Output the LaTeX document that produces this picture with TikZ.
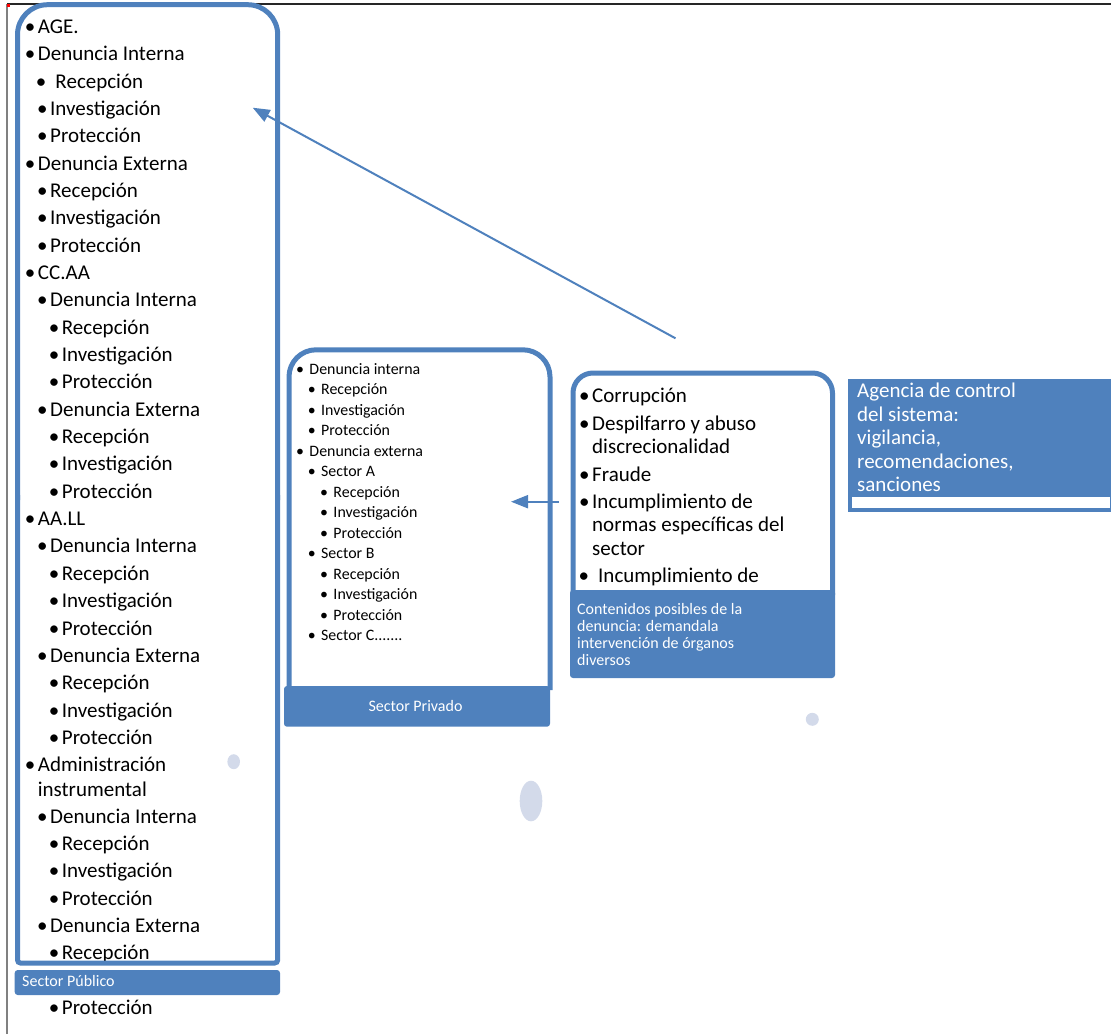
\documentclass[tikz,border=0pt]{standalone}
\usepackage{fontspec}
\setmainfont{Carlito}
\usetikzlibrary{arrows.meta}
\definecolor{accblue}{HTML}{4F81BD}
\definecolor{blob}{HTML}{D3DAEA}
\newcommand{\bu}[1][2.5pt]{\llap{\textbullet\hspace{#1}}}

\tikzset{
  lg/.style={anchor=base west,inner sep=0pt,font=\fontsize{21}{24}\selectfont},
  sm/.style={anchor=base west,inner sep=0pt,font=\fontsize{15.9}{18}\selectfont},
  wt/.style={anchor=base west,inner sep=0pt,text=white,font=\fontsize{16}{18}\selectfont},
  wl/.style={anchor=base west,inner sep=0pt,text=white,font=\fontsize{21}{24}\selectfont},
  frame/.style={draw=accblue,line width=5pt},
  bar/.style={fill=accblue,rounded corners=3pt},
  arr/.style={draw=accblue,line width=2pt,-{Triangle[length=17pt,width=13pt]}}
}

\begin{document}
\begin{tikzpicture}[x=1pt,y=-1pt]
\useasboundingbox (0,0) rectangle (1111,1034);
% page edge
\draw[black!50,line width=1.2pt] (7,1034)--(7,4);
\draw[black!85,line width=1.3pt] (7,4)--(1111,4);
\fill[red] (6.5,3.5) rectangle (9.5,6.5);
% faint blobs
\fill[blob] (233.7,761.7) ellipse [x radius=6.3pt,y radius=7.5pt];
\fill[blob] (531,801) ellipse [x radius=11.3pt,y radius=20.3pt];
\fill[blob] (812.3,719.3) circle (6.5pt);

% sector publico list
\node[lg] (p1) at (37.7,33.3) {\bu AGE.};
\node[lg] (p2) at (37.7,60.65) {\bu Denuncia Interna};
\node[lg] (p3) at (55.3,88) {\bu[9.2pt]Recepción};
\node[lg] (p4) at (50,115.35) {\bu Investigación};
\node[lg] (p5) at (50,142.7) {\bu Protección};
\node[lg] (p6) at (37.7,170.05) {\bu Denuncia Externa};
\node[lg] (p7) at (50,197.4) {\bu Recepción};
\node[lg] (p8) at (50,224.75) {\bu Investigación};
\node[lg] (p9) at (50,252.1) {\bu Protección};
\node[lg] (p10) at (37.7,279.45) {\bu CC.AA};
\node[lg] (p11) at (50,306.8) {\bu Denuncia Interna};
\node[lg] (p12) at (61.7,334.15) {\bu Recepción};
\node[lg] (p13) at (61.7,361.5) {\bu Investigación};
\node[lg] (p14) at (61.7,388.85) {\bu Protección};
\node[lg] (p15) at (50,416.2) {\bu Denuncia Externa};
\node[lg] (p16) at (61.7,443.55) {\bu Recepción};
\node[lg] (p17) at (61.7,470.9) {\bu Investigación};
\node[lg] (p18) at (61.7,498.25) {\bu Protección};
\node[lg] (p19) at (37.7,525.6) {\bu AA.LL};
\node[lg] (p20) at (50,552.95) {\bu Denuncia Interna};
\node[lg] (p21) at (61.7,580.3) {\bu Recepción};
\node[lg] (p22) at (61.7,607.65) {\bu Investigación};
\node[lg] (p23) at (61.7,635) {\bu Protección};
\node[lg] (p24) at (50,662.35) {\bu Denuncia Externa};
\node[lg] (p25) at (61.7,689.7) {\bu Recepción};
\node[lg] (p26) at (61.7,717.05) {\bu Investigación};
\node[lg] (p27) at (61.7,744.4) {\bu Protección};
\node[lg] (p28) at (37.7,771.75) {\bu Administración};
\node[lg] (p29) at (37.7,796.7) {instrumental};
\node[lg] (p30) at (50,823) {\bu Denuncia Interna};
\node[lg] (p31) at (61.7,850.5) {\bu Recepción};
\node[lg] (p32) at (61.7,877.8) {\bu Investigación};
\node[lg] (p33) at (61.7,905) {\bu Protección};
\node[lg] (p34) at (50,932.5) {\bu Denuncia Externa};
\node[lg] (p35) at (61.7,959.8) {\bu Recepción};
\node[lg] (p36) at (61.7,1014.7) {\bu Protección};
% box + bar
\draw[frame,rounded corners=30pt] (17.5,500)--(17.5,4.7)--(277.7,4.7)--(277.7,500);
\draw[frame,rounded corners=3pt] (17.5,495)--(17.5,963)--(277.7,963)--(277.7,495);
\fill[bar] (14.7,970) rectangle (280,995);
\node[wt] (pub) at (22,986.7) {Sector Público};

% sector privado
\node[sm] (v1) at (309.3,374.3) {\bu[5.4pt]Denuncia interna};
\node[sm] (v2) at (321,394.8) {\bu[5.4pt]Recepción};
\node[sm] (v3) at (321,415.3) {\bu[5.4pt]Investigación};
\node[sm] (v4) at (321,435.8) {\bu[5.4pt]Protección};
\node[sm] (v5) at (309.3,456.3) {\bu[5.4pt]Denuncia externa};
\node[sm] (v6) at (321,476.8) {\bu[5.4pt]Sector A};
\node[sm] (v7) at (333.3,497.3) {\bu[5.4pt]Recepción};
\node[sm] (v8) at (333.3,517.8) {\bu[5.4pt]Investigación};
\node[sm] (v9) at (333.3,538.3) {\bu[5.4pt]Protección};
\node[sm] (v10) at (321,558.8) {\bu[5.4pt]Sector B};
\node[sm] (v11) at (333.3,579.3) {\bu[5.4pt]Recepción};
\node[sm] (v12) at (333.3,599.8) {\bu[5.4pt]Investigación};
\node[sm] (v13) at (333.3,620.3) {\bu[5.4pt]Protección};
\node[sm] (v14) at (321,640.8) {\bu[5.4pt]Sector C.......};
\draw[frame,rounded corners=27pt] (289,690)--(289,349.8)--(550,349.8)--(550,690);
\fill[bar] (284,686) rectangle (550,726.7);
\node[wt,anchor=base] (priv) at (415.5,711) {Sector Privado};

% contenidos
\node[lg] (c1) at (592,402.7) {\bu Corrupción};
\node[lg] (c2) at (592,430.7) {\bu Despilfarro y abuso};
\node[lg] (c3) at (592,453.5) {discrecionalidad};
\node[lg] (c4) at (592,481.5) {\bu Fraude};
\node[lg] (c5) at (592,508.7) {\bu Incumplimiento de};
\node[lg] (c6) at (592,531) {normas específicas del};
\node[lg] (c7) at (592,555.5) {sector};
\node[lg] (c8) at (598,582.7) {\bu[9pt]Incumplimiento de};
\draw[frame,rounded corners=20pt] (573,595)--(573,373)--(832.5,373)--(832.5,595);
\fill[bar] (570,590) rectangle (835,678);
\node[wt] (k1) at (577,614) {Contenidos posibles de la};
\node[wt] (k2) at (577,631) {denuncia: demandala};
\node[wt] (k3) at (577,648) {intervención de órganos};
\node[wt] (k4) at (577,665) {diversos};

% agencia
\draw[accblue,line width=4pt,fill=white] (850,381) rectangle (1112,509.5);
\fill[accblue] (848,379) rectangle (1111,497);
\node[wl] (a1) at (857,397.3) {Agencia de control};
\node[wl] (a2) at (857,421) {del sistema:};
\node[wl] (a3) at (857,444.5) {vigilancia,};
\node[wl] (a4) at (857,468) {recomendaciones,};
\node[wl] (a5) at (857,491) {sanciones};

% arrows
\coordinate (lfrom) at (675.5,338.3);
\coordinate (lto) at (252.7,107.7);
\coordinate (sfrom) at (559,501.7);
\coordinate (sto) at (511,501.7);
\draw[arr] (lfrom) -- (lto);
\draw[arr] (sfrom) -- (sto);
\end{tikzpicture}
\end{document}
